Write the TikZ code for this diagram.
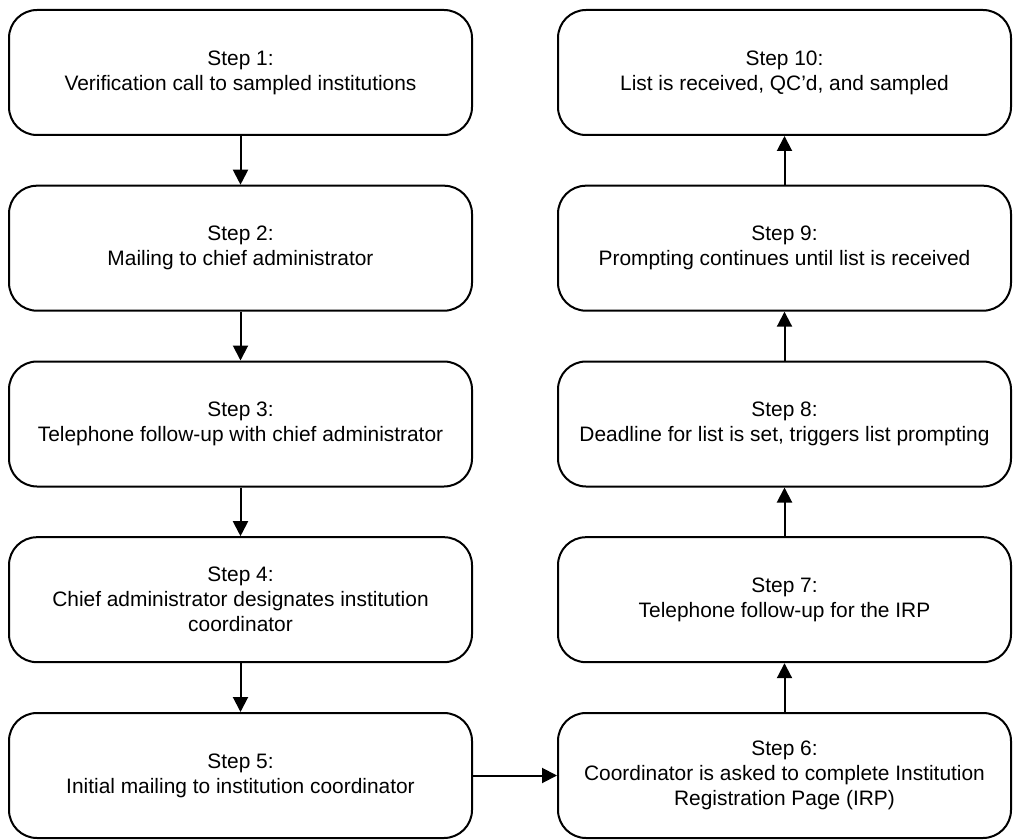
\documentclass[tikz,border=0pt]{standalone}
\usepackage{fontspec}
\setmainfont{Liberation Sans}
\usetikzlibrary{arrows.meta}

\begin{document}
\begin{tikzpicture}[x=1pt, y=-1pt,
        stepbox/.style = {draw, line width=2pt, rounded corners=28pt, align=center,
            minimum height=125pt, inner sep=0pt, font=\fontsize{20.9}{25}\selectfont},
        leftbox/.style = {stepbox, minimum width=463pt},
        rightbox/.style = {stepbox, minimum width=453pt},
        arr/.style = {line width=2pt, -{Triangle[length=15pt, width=15pt]}}]
        \useasboundingbox (0,0) rectangle (1013,840);
        % left column, going down
        \node[leftbox] (step1) at(240.5,72.5){Step 1:\\Verification call to sampled institutions};
        \node[leftbox] (step2) at(240.5,248.2){Step 2:\\Mailing to chief administrator};
        \node[leftbox] (step3) at(240.5,424){Step 3:\\Telephone follow-up with chief administrator};
        \node[leftbox] (step4) at(240.5,599.7){Step 4:\\Chief administrator designates institution\\coordinator};
        \node[leftbox] (step5) at(240.5,775.5){Step 5:\\Initial mailing to institution coordinator};
        % right column, going up
        \node[rightbox] (step6) at(784.5,775.5){Step 6:\\Coordinator is asked to complete Institution\\Registration Page (IRP)};
        \node[rightbox] (step7) at(784.5,599.7){Step 7:\\Telephone follow-up for the IRP};
        \node[rightbox] (step8) at(784.5,424){Step 8:\\Deadline for list is set, triggers list prompting};
        \node[rightbox] (step9) at(784.5,248.2){Step 9:\\Prompting continues until list is received};
        \node[rightbox] (step10) at(784.5,72.5){Step 10:\\List is received, QC'd, and sampled};
        \draw[arr] (step1) -- (step2);
        \draw[arr] (step2) -- (step3);
        \draw[arr] (step3) -- (step4);
        \draw[arr] (step4) -- (step5);
        \draw[arr] (step5) -- (step6);
        \draw[arr] (step6) -- (step7);
        \draw[arr] (step7) -- (step8);
        \draw[arr] (step8) -- (step9);
        \draw[arr] (step9) -- (step10);
    \end{tikzpicture}
\end{document}
